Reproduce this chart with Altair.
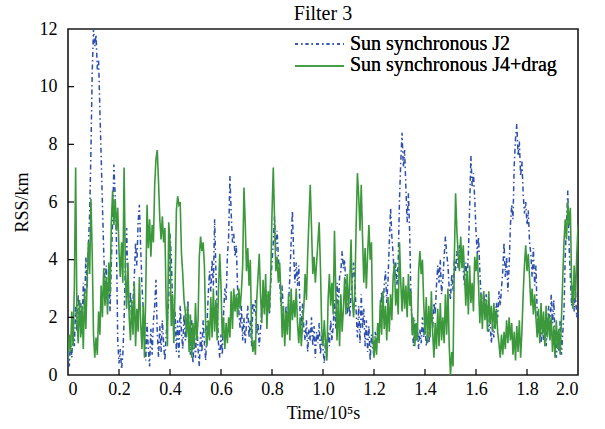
import altair as alt
import numpy as np
import pandas as pd

# ---- data (time step 0.005 x 10^5 s) ----
rss_j2 = [
    0.8, 0.3, 1.2, 0.6, 1.8, 1.0, 2.4, 1.5, 2.8, 1.9, 2.5, 1.4, 3.2, 2.3, 4.1, 3.0, 4.5, 5.6, 7.8, 10.5,
    12.0, 11.4, 11.8, 10.6, 10.9, 9.2, 7.6, 5.9, 4.3, 3.1, 3.8, 2.4, 3.5, 2.2, 3.9, 5.4, 7.3, 6.2, 4.6, 1.2,
    0.4, 0.9, 0.2, 0.7, 1.9, 3.8, 5.1, 3.0, 2.2, 2.9, 1.8, 2.6, 3.4, 4.6, 3.8, 5.3, 5.9, 4.4, 3.1, 2.3,
    1.4, 0.5, 1.8, 0.9, 0.3, 1.6, 0.7, 1.9, 2.4, 3.3, 1.5, 0.6, 1.7, 0.8, 1.9, 1.1, 0.5, 1.4, 2.0, 2.6,
    4.9, 4.1, 2.5, 1.3, 2.2, 0.8, 1.9, 0.6, 2.4, 1.5, 0.9, 2.1, 1.2, 1.8, 2.6, 1.6, 0.7, 1.9, 0.4, 1.3,
    0.6, 1.8, 0.9, 0.3, 1.5, 0.8, 1.9, 1.1, 0.5, 1.7, 2.8, 3.6, 2.9, 4.0, 3.1, 5.4, 3.6, 2.2, 1.1, 0.6,
    1.4, 0.7, 2.1, 3.0, 2.6, 4.1, 4.8, 6.9, 5.6, 4.6, 4.9, 4.1, 4.5, 3.0, 2.2, 1.6, 2.4, 1.2, 2.0, 1.1,
    1.8, 2.4, 1.3, 1.9, 1.0, 2.5, 2.2, 2.6, 1.4, 1.8, 1.0, 1.6, 2.3, 2.9, 2.2, 3.0, 2.4, 2.8, 2.1, 3.2,
    3.9, 4.6, 5.5, 4.3, 5.0, 4.1, 3.3, 2.4, 3.1, 2.0, 1.4, 2.4, 1.6, 2.5, 3.4, 4.6, 5.7, 4.2, 3.2, 3.9,
    3.1, 3.8, 2.2, 1.7, 2.5, 1.6, 1.2, 1.9, 0.8, 1.6, 1.2, 2.0, 1.0, 1.7, 0.6, 1.5, 1.1, 1.8, 0.7, 1.4,
    0.9, 0.4, 1.3, 0.6, 1.5, 1.0, 1.9, 1.2, 1.7, 2.6, 1.6, 3.2, 2.3, 3.4, 3.6, 4.3, 3.7, 4.0, 2.9, 2.1,
    2.7, 2.0, 2.8, 3.3, 3.9, 3.2, 2.2, 1.3, 2.4, 1.1, 2.8, 1.6, 2.3, 1.0, 1.9, 0.8, 1.7, 0.5, 1.4, 0.9,
    0.7, 1.5, 0.9, 1.8, 1.2, 2.1, 2.9, 2.2, 3.1, 3.6, 2.5, 3.3, 4.6, 5.8, 4.8, 4.2, 3.3, 3.9, 3.1, 4.0,
    6.1, 7.4, 8.4, 7.2, 7.8, 6.5, 5.3, 6.3, 4.9, 2.6, 1.6, 1.0, 1.9, 1.2, 1.7, 0.9, 1.6, 1.1, 2.0, 1.3,
    1.8, 1.0, 1.5, 1.1, 1.6, 2.2, 1.6, 2.5, 2.1, 3.1, 3.8, 3.2, 4.0, 2.8, 3.3, 4.1, 4.8, 4.2, 3.8, 3.0,
    2.6, 3.5, 2.9, 4.0, 3.6, 4.3, 3.7, 4.5, 3.9, 4.4, 3.6, 3.1, 3.9, 3.3, 4.2, 5.8, 7.6, 6.5, 7.0, 6.1,
    5.0, 4.2, 4.8, 3.6, 2.7, 2.1, 2.9, 2.3, 2.8, 2.0, 1.5, 1.9, 1.1, 1.7, 1.3, 2.0, 2.5, 2.0, 2.9, 2.4,
    3.0, 3.6, 4.6, 3.4, 4.1, 2.9, 3.8, 5.2, 5.9, 5.4, 7.3, 8.2, 8.7, 7.6, 8.1, 6.9, 7.4, 6.3, 5.6, 6.0,
    5.2, 5.7, 4.6, 4.2, 3.4, 4.4, 3.1, 3.8, 2.1, 1.4, 1.9, 1.1, 1.7, 1.2, 1.9, 1.0, 1.6, 2.4, 1.5, 2.8,
    1.8, 2.6, 1.2, 0.6, 1.5, 0.8, 1.9, 0.7, 1.4, 2.2, 4.1, 5.3, 6.4, 4.5, 3.4, 2.4, 3.1, 2.2, 2.9, 2.0,
    2.3,
]

rss_j4_drag = [
    0.5, 1.4, 0.8, 2.2, 1.0, 3.1, 7.2, 2.0, 1.1, 2.6, 1.3, 2.4, 0.9, 2.9, 1.6, 3.3, 4.6, 3.5, 6.1, 4.2,
    1.4, 0.6, 1.3, 0.7, 2.2, 1.4, 3.1, 2.0, 3.7, 2.4, 3.4, 2.1, 3.9, 2.8, 5.3, 6.4, 5.2, 6.1, 5.0, 5.8,
    4.3, 3.4, 4.6, 3.2, 7.2, 3.6, 2.3, 3.9, 2.0, 1.2, 2.6, 1.4, 3.2, 1.0, 2.3, 1.5, 3.4, 1.8, 0.9, 2.4,
    0.6, 2.9, 5.9, 4.4, 5.4, 4.1, 5.2, 4.6, 6.6, 7.5, 7.8, 6.7, 5.4, 4.7, 5.5, 4.6, 5.1, 2.4, 1.0, 5.3,
    4.6, 1.7, 2.8, 1.1, 3.0, 5.7, 6.2, 5.9, 6.0, 4.2, 3.5, 2.6, 2.2, 1.3, 2.4, 0.8, 2.1, 0.6, 1.8, 0.9,
    2.5, 1.2, 1.9, 4.1, 4.8, 4.3, 4.6, 3.8, 1.6, 1.0, 1.9, 1.2, 2.7, 1.3, 3.0, 1.5, 2.6, 1.2, 2.9, 4.2,
    3.1, 1.3, 2.0, 0.9, 1.8, 1.1, 2.0, 1.3, 2.9, 1.6, 3.0, 2.2, 2.8, 2.0, 3.0, 2.3, 2.9, 3.8, 6.5, 5.3,
    3.6, 4.4, 3.1, 4.0, 1.4, 0.8, 1.2, 0.7, 2.6, 3.4, 4.2, 2.8, 1.8, 3.3, 2.1, 3.5, 1.6, 2.9, 2.2, 3.4,
    5.6, 7.2, 5.4, 3.6, 4.1, 3.2, 3.9, 2.8, 1.3, 2.4, 1.0, 2.2, 1.4, 2.8, 1.2, 3.0, 1.9, 2.6, 2.0, 3.0,
    1.8, 1.1, 2.0, 1.0, 1.8, 2.4, 3.5, 2.6, 4.2, 5.4, 6.6, 5.1, 3.5, 4.1, 3.2, 3.9, 4.6, 5.3, 3.7, 1.6,
    1.0, 1.9, 1.1, 0.5, 2.6, 3.5, 2.4, 3.2, 2.1, 5.0, 3.0, 1.2, 2.6, 1.0, 2.8, 1.5, 2.3, 3.4, 2.1, 3.5,
    2.3, 3.2, 4.7, 2.6, 2.0, 2.9, 5.2, 7.0, 6.2, 5.0, 6.6, 4.8, 3.2, 4.4, 3.0, 4.2, 5.2, 4.0, 4.6, 1.4,
    0.6, 1.3, 0.7, 1.8, 1.1, 2.6, 1.4, 2.9, 1.6, 2.4, 1.2, 2.7, 1.5, 2.8, 1.9, 3.4, 3.9, 2.4, 3.0, 2.1,
    4.6, 3.2, 2.2, 3.4, 2.3, 3.1, 2.0, 3.5, 2.4, 2.9, 1.4, 2.0, 1.0, 1.8, 1.2, 3.6, 4.3, 3.5, 4.0, 2.5,
    1.4, 2.7, 1.1, 2.4, 1.3, 2.9, 1.5, 0.6, 1.8, 0.9, 2.3, 1.0, 2.5, 1.2, 2.0, 1.1, 2.8, 1.4, 3.0, 1.0,
    0.0, 0.8, 0.3, 4.0, 6.3, 5.0, 4.2, 3.6, 4.8, 3.7, 4.5, 3.5, 2.4, 3.6, 2.1, 3.8, 2.5, 3.2, 2.2, 4.1,
    3.6, 4.2, 3.1, 1.8, 2.8, 1.6, 2.9, 1.9, 2.6, 1.5, 2.9, 1.8, 2.4, 1.5, 2.5, 1.6, 2.3, 1.5, 1.1, 0.6,
    1.4, 0.7, 1.5, 0.9, 1.9, 1.1, 2.0, 1.2, 1.8, 0.7, 1.5, 0.5, 1.7, 0.8, 1.9, 0.6, 1.5, 2.8, 3.8, 4.5,
    3.6, 4.2, 3.4, 2.4, 3.0, 2.1, 2.8, 2.0, 1.3, 2.3, 1.1, 2.5, 1.4, 2.2, 1.0, 2.4, 1.3, 2.1, 1.2, 2.0,
    0.8, 1.7, 0.6, 1.9, 0.9, 1.6, 0.7, 1.9, 3.3, 4.6, 5.4, 4.7, 6.0, 5.2, 5.8, 3.1, 2.3, 3.8, 2.6, 4.1,
    5.2,
]

time_1e5s = np.round(np.arange(len(rss_j2)) * 0.005, 3)

series_names = ["Sun synchronous J2", "Sun synchronous J4+drag"]
x_ticks = [0, 0.2, 0.4, 0.6, 0.8, 1.0, 1.2, 1.4, 1.6, 1.8, 2.0]
y_ticks = [0, 2, 4, 6, 8, 10, 12]
chart_title = "Filter 3"
x_title = "Time/10\u2075s"
y_title = "RSS/km"

BLUE = "#2c4fae"
GREEN = "#3b983b"
FONT = "Liberation Serif"
FS = 18
LEG_FS = 20
W, H = 510, 346

df_j2 = pd.DataFrame({"t": time_1e5s, "v": rss_j2})
df_j4 = pd.DataFrame({"t": time_1e5s, "v": rss_j4_drag})

xscale = alt.Scale(domain=[0, 2], nice=False, zero=False)
yscale = alt.Scale(domain=[0, 12], nice=False, zero=False)

common_axis = dict(tickSize=0, domain=False, grid=False,
                   labelFont=FONT, labelFontSize=FS, labelColor="black",
                   titleFont=FONT, titleFontSize=FS, titleFontWeight="normal",
                   titleColor="black")
xaxis = alt.Axis(values=x_ticks,
                 labelExpr="datum.value == 0 ? '0' : format(datum.value, '.1f')",
                 labelPadding=5, titleY=38, titleBaseline="middle", **common_axis)
yaxis = alt.Axis(values=y_ticks, labelPadding=11, titleX=-46, titleY=H / 2,
                 titleBaseline="middle", titleAngle=-90, **common_axis)


def X(field):
    return alt.X(field, type="quantitative", scale=xscale, axis=xaxis, title=x_title)


def Y(field):
    return alt.Y(field, type="quantitative", scale=yscale, axis=yaxis, title=y_title)


line_j2 = alt.Chart(df_j2).mark_line(
    color=BLUE, strokeWidth=1.5, strokeDash=[5, 3, 1.5, 3], clip=True
).encode(x=X("t"), y=Y("v"))

line_j4 = alt.Chart(df_j4).mark_line(
    color=GREEN, strokeWidth=1.6, clip=True
).encode(x=X("t"), y=Y("v"))

# inward tick marks
xt_df = pd.DataFrame({"t": x_ticks[1:-1]})
yt_df = pd.DataFrame({"v": y_ticks[1:-1]})
xticks_layer = alt.Chart(xt_df).mark_rule(color="black", strokeWidth=1.2).encode(
    x=X("t"), y=alt.value(H), y2=alt.value(H - 6))
yticks_layer = alt.Chart(yt_df).mark_rule(color="black", strokeWidth=1.2).encode(
    y=Y("v"), x=alt.value(0), x2=alt.value(6))

# legend
leg_df = pd.DataFrame({"name": series_names})
leg_line1 = alt.Chart(leg_df).mark_rule(color=BLUE, strokeWidth=1.4,
                                        strokeDash=[3, 3, 1.5, 3]).encode(
    x=alt.value(227), x2=alt.value(276), y=alt.value(15))
leg_line2 = alt.Chart(leg_df).mark_rule(color=GREEN, strokeWidth=1.6).encode(
    x=alt.value(227), x2=alt.value(276), y=alt.value(37))
leg_text1 = alt.Chart(leg_df).mark_text(align="left", baseline="alphabetic", font=FONT,
                                        fontSize=LEG_FS, color="black").encode(
    x=alt.value(282), y=alt.value(21), text=alt.value(series_names[0]))
leg_text2 = alt.Chart(leg_df).mark_text(align="left", baseline="alphabetic", font=FONT,
                                        fontSize=LEG_FS, color="black").encode(
    x=alt.value(282), y=alt.value(42), text=alt.value(series_names[1]))

# chart title as a text mark above the frame
title_df = pd.DataFrame({"title": [chart_title]})
title_layer = alt.Chart(title_df).mark_text(align="center", baseline="alphabetic",
                                            font=FONT, fontSize=20, color="black").encode(
    x=alt.value(W / 2), y=alt.value(-9), text="title:N")

chart = alt.layer(
    line_j2, line_j4, xticks_layer, yticks_layer,
    leg_line1, leg_line2, leg_text1, leg_text2, title_layer,
).properties(
    width=W, height=H,
    autosize=alt.AutoSizeParams(type="none"),
    padding={"left": 68, "top": 29, "right": 27, "bottom": 54},
    background="white",
).configure_view(
    stroke="#1a1a1a", strokeWidth=1.6
)

chart.save("out.html", embed_options={"renderer": "svg", "actions": False})
